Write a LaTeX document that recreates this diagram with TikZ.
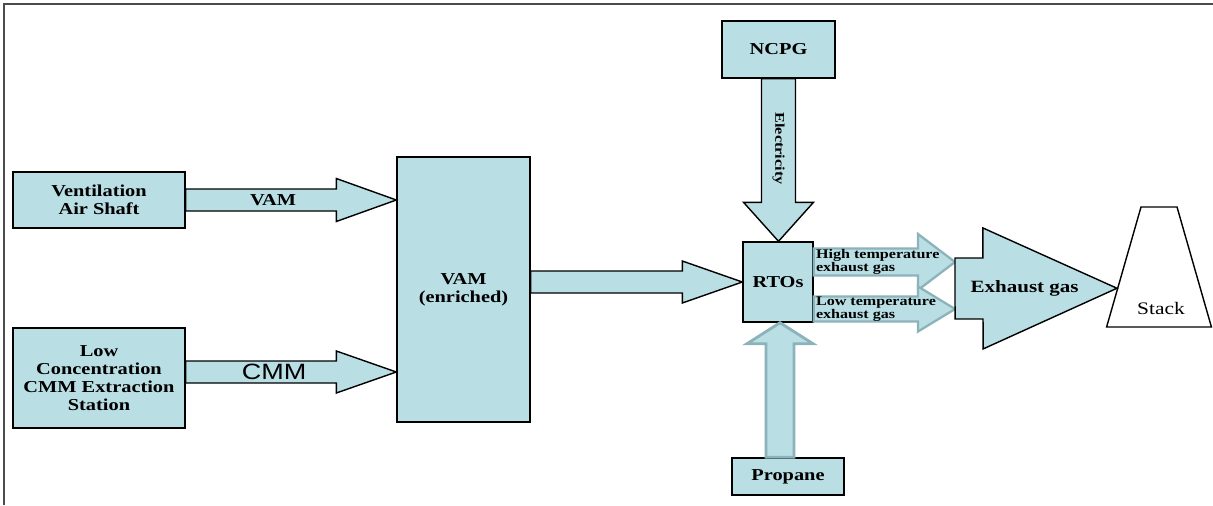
\documentclass[tikz,border=0pt]{standalone}
\usepackage{fontspec}
\setmainfont{Liberation Serif}[FakeStretch = 1.22]
\newfontfamily\cmmfont{Liberation Sans}[FakeStretch = 1.22]
\usetikzlibrary{calc}
\usetikzlibrary{shapes.geometric}
\definecolor{boxblue}{RGB}{185,223,229}
\definecolor{rimblue}{RGB}{140,178,186}
\tikzset{box/.style = {draw, fill = boxblue, line width = 0.8pt, align = center, inner sep = 0pt}}
\tikzset{fat/.style = {draw, fill = boxblue, line width = 0.8pt, line join = miter}}
\tikzset{softfat/.style = {fat, draw = rimblue, line width = 1.3pt}}

% [style]{tail}{tip}{shaft half width}{head half width}{head length}
\newcommand{\blockarrow}[6][]{%
	\path (#2) coordinate (ba-tail) (#3) coordinate (ba-tip);
	\path ($(ba-tip)!#6!(ba-tail)$) coordinate (ba-neck);
	\draw[fat, #1] ($(ba-tail)!#4!90:(ba-tip)$) -- ($(ba-neck)!#4!90:(ba-tip)$) -- ($(ba-neck)!#5!90:(ba-tip)$) -- (ba-tip)
		-- ($(ba-neck)!#5!-90:(ba-tip)$) -- ($(ba-neck)!#4!-90:(ba-tip)$) -- ($(ba-tail)!#4!-90:(ba-tip)$) -- cycle;
}

\begin{document}
\begin{tikzpicture}[font = {\fontsize{9.5pt}{10.2pt}\selectfont\bfseries}]
\useasboundingbox (0,0) rectangle (24.26,-10.1);
\draw[gray!60!black, line width = 1.1pt] (0.08,-10.1) -- (0.08,-0.08) -- (24.26,-0.08);

\node[box, minimum width = 3.44cm, minimum height = 1.12cm] (VAS) at (1.98,-4.0) {Ventilation \\ Air Shaft};
\node[box, minimum width = 3.44cm, minimum height = 2.0cm] (LCS) at (1.98,-7.56) {Low \\ Concentration \\ CMM Extraction \\ Station};
\node[box, minimum width = 2.66cm, minimum height = 5.3cm] (VAME) at (9.27,-5.79) {VAM \\ (enriched)};
\node[box, minimum width = 2.26cm, minimum height = 1.14cm] (NCPG) at (15.57,-0.99) {NCPG};
\node[box, minimum width = 1.4cm, minimum height = 1.6cm] (RTO) at (15.56,-5.64) {RTOs};
\node[box, minimum width = 2.24cm, minimum height = 0.74cm] (PRO) at (15.76,-9.53) {Propane};
\node[draw, trapezium, trapezium angle = 74, line width = 0.8pt,
	inner xsep = 0.36cm, inner ysep = 1.2cm] (STK) at (23.18,-5.34) {};
\node[font = {\fontsize{10pt}{11pt}\selectfont}] (STK-l) at ($(STK.center)+(0.04,-0.82)$) {Stack};

\coordinate (CMM-out) at ($(LCS.east)+(0,0.12)$);
\coordinate (HT-out) at ($(RTO.east)+(0,0.4)$);
\coordinate (LT-out) at ($(RTO.east)+(0,-0.54)$);
\coordinate (PRO-out) at ($(PRO.north)+(-0.16,0)$);
\coordinate (EXH-in) at (19.1,-5.77);
\coordinate (STK-in) at ($(STK.bottom left corner)!0.325!(STK.top left corner)$);

\blockarrow{VAS.east}{VAS.east -| VAME.west}{0.22cm}{0.43cm}{1.2cm}
\node (VAM-l) at ($(VAS.east)!0.415!(VAS.east -| VAME.west)$) {VAM};

\blockarrow{CMM-out}{CMM-out -| VAME.west}{0.22cm}{0.42cm}{1.2cm}
\node[font = {\fontsize{12.6pt}{13pt}\cmmfont}] (CMM-l) at ($(CMM-out)!0.42!(CMM-out -| VAME.west)$) {CMM};

\blockarrow{VAME.east |- RTO.west}{RTO.west}{0.22cm}{0.42cm}{1.2cm}

\blockarrow{NCPG.south}{NCPG.south |- RTO.north}{0.34cm}{0.7cm}{0.78cm}
\node[rotate = -90, font = {\fontsize{7.6pt}{8pt}\selectfont\bfseries}] (ELC-l) at ($(NCPG.south)!0.43!(NCPG.south |- RTO.north)$) {Electricity};

\blockarrow[softfat]{HT-out}{HT-out -| EXH-in}{0.27cm}{0.56cm}{0.74cm}
\blockarrow[softfat]{LT-out}{LT-out -| EXH-in}{0.25cm}{0.45cm}{0.74cm}
\node[anchor = west, align = left, inner sep = 0pt, font = {\fontsize{7.5pt}{7.4pt}\selectfont\bfseries}] (HT-l) at ($(HT-out)+(0.04,0)$) {High temperature \\ exhaust gas};
\node[anchor = west, align = left, inner sep = 0pt, font = {\fontsize{7.5pt}{7.4pt}\selectfont\bfseries}] (LT-l) at ($(LT-out)+(0.04,0)$) {Low temperature \\ exhaust gas};

\blockarrow[softfat, line width = 1.6pt]{PRO-out}{PRO-out |- RTO.south}{0.28cm}{0.66cm}{0.42cm}

\blockarrow{EXH-in}{STK-in}{0.61cm}{1.21cm}{2.68cm}
\node[font = {\fontsize{9.8pt}{11pt}\selectfont\bfseries}] (EXH-l) at ($(EXH-in)!0.43!(STK-in)$) {Exhaust gas};
\end{tikzpicture}
\end{document}
